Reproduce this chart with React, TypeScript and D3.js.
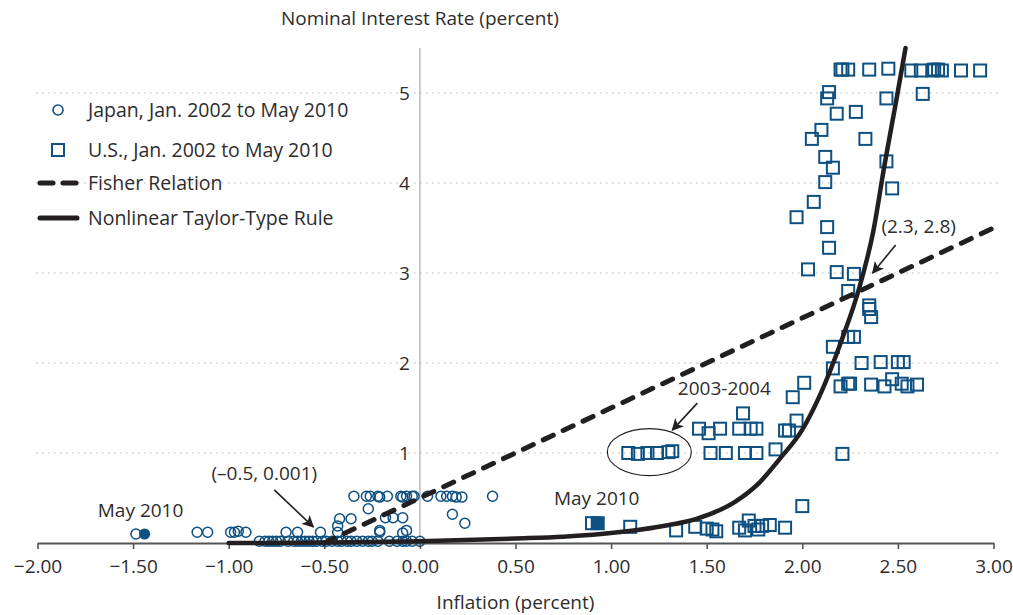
import { useEffect, useRef } from "react";
import * as d3 from "d3";

// Japan, Jan. 2002 to May 2010: [inflation, nominal rate]
const japanPoints = [
  [-1.485, 0.1], [-1.165, 0.12], [-1.11, 0.12], [-0.99, 0.12], [-0.97, 0.12], [-0.95, 0.13], [-0.91, 0.12],
  [-0.7, 0.12], [-0.64, 0.12], [-0.52, 0.12], [-0.43, 0.12], [-0.21, 0.12], [-0.09, 0.11],
  [-0.43, 0.19], [-0.42, 0.27], [-0.36, 0.27], [-0.27, 0.38], [-0.21, 0.14], [-0.07, 0.14],
  [-0.18, 0.28], [-0.14, 0.28], [-0.09, 0.28],
  [-0.345, 0.52], [-0.28, 0.52], [-0.26, 0.52], [-0.22, 0.52], [-0.21, 0.51], [-0.17, 0.52], [-0.1, 0.52],
  [-0.09, 0.51], [-0.07, 0.52], [-0.04, 0.52], [-0.03, 0.52], [0.04, 0.52], [0.11, 0.52], [0.14, 0.52],
  [0.17, 0.52], [0.19, 0.51], [0.22, 0.51], [0.38, 0.52], [0.17, 0.32], [0.235, 0.22],
  [-0.84, 0.02], [-0.81, 0.02], [-0.79, 0.02], [-0.77, 0.02], [-0.75, 0.02], [-0.73, 0.02], [-0.69, 0.02],
  [-0.66, 0.02], [-0.64, 0.02], [-0.62, 0.02], [-0.6, 0.02], [-0.58, 0.02], [-0.56, 0.02], [-0.54, 0.02],
  [-0.51, 0.02], [-0.49, 0.02], [-0.46, 0.02], [-0.43, 0.02], [-0.41, 0.02], [-0.38, 0.02], [-0.36, 0.02],
  [-0.33, 0.02], [-0.3, 0.02], [-0.27, 0.02], [-0.25, 0.02], [-0.22, 0.02], [-0.16, 0.02], [-0.12, 0.02],
  [-0.09, 0.02], [-0.07, 0.02], [-0.04, 0.02], [0.0, 0.02],
];
const japanMay2010 = [-1.44, 0.1];

// U.S., Jan. 2002 to May 2010
const usPoints = [
  [0.9, 0.22], [1.1, 0.18], [1.34, 0.14], [1.44, 0.18], [1.5, 0.16], [1.53, 0.15], [1.55, 0.13],
  [1.67, 0.17], [1.7, 0.14], [1.72, 0.25], [1.75, 0.19], [1.77, 0.15], [1.79, 0.19], [1.83, 0.2],
  [1.91, 0.17], [2.0, 0.41],
  [1.09, 1.0], [1.14, 0.99], [1.19, 1.0], [1.24, 1.0], [1.3, 1.01], [1.32, 1.02],
  [1.46, 1.27], [1.51, 1.22], [1.57, 1.27], [1.67, 1.27], [1.73, 1.27], [1.76, 1.27], [1.69, 1.44],
  [1.91, 1.25], [1.93, 1.25], [1.97, 1.36], [1.95, 1.62], [2.01, 1.78],
  [1.52, 1.0], [1.6, 1.0], [1.7, 1.0], [1.76, 1.0], [1.86, 1.04], [2.21, 0.99],
  [2.16, 1.94], [2.2, 1.74], [2.24, 1.77], [2.25, 1.77], [2.31, 2.0], [2.36, 1.76], [2.41, 2.01],
  [2.43, 1.74], [2.47, 1.82], [2.5, 2.01], [2.53, 2.01], [2.52, 1.77], [2.55, 1.74], [2.6, 1.76],
  [2.16, 2.18], [2.24, 2.29], [2.27, 2.29], [2.35, 2.64], [2.35, 2.6], [2.36, 2.51], [2.24, 2.8],
  [2.03, 3.04], [2.18, 3.01], [2.27, 2.99], [2.14, 3.28], [2.13, 3.51], [1.97, 3.62], [2.06, 3.79],
  [2.12, 4.01], [2.47, 3.94], [2.44, 4.24], [2.16, 4.17], [2.12, 4.29], [2.05, 4.49], [2.33, 4.49],
  [2.1, 4.59], [2.18, 4.77], [2.28, 4.79], [2.13, 4.94], [2.14, 5.01], [2.44, 4.94], [2.63, 4.99],
  [2.2, 5.26], [2.21, 5.26], [2.24, 5.26], [2.35, 5.26], [2.45, 5.27], [2.57, 5.25], [2.62, 5.25],
  [2.68, 5.25], [2.69, 5.26], [2.71, 5.26], [2.73, 5.25], [2.83, 5.25], [2.93, 5.25],
];
const usMay2010 = [0.93, 0.22];

// Fisher relation and nonlinear Taylor-type rule
const fisherLine = [[-0.5, 0.001], [3.0, 3.5]];
const taylorLine = [
  [-1.0, 0.0], [-0.5, 0.005], [0.0, 0.02], [0.5, 0.05], [0.75, 0.07], [1.0, 0.11], [1.25, 0.18],
  [1.45, 0.27], [1.65, 0.46], [1.78, 0.68], [1.88, 0.93], [2.0, 1.26], [2.1, 1.68], [2.2, 2.22],
  [2.3, 2.85], [2.37, 3.45], [2.43, 4.2], [2.49, 4.9], [2.54, 5.5],
];

const xTicks = [-2, -1.5, -1, -0.5, 0, 0.5, 1, 1.5, 2, 2.5, 3];
const yTicks = [1, 2, 3, 4, 5];

const legendItems = [
  "Japan, Jan. 2002 to May 2010",
  "U.S., Jan. 2002 to May 2010",
  "Fisher Relation",
  "Nonlinear Taylor-Type Rule",
];

const BLUE = "#0d5081";
const INK = "#231f20";
const TEXT = "#2e2c2d";
const FONT = "'Open Sans', sans-serif";
const FS = "19px";

export default function App() {
  const ref = useRef(null);

  useEffect(() => {
    const width = 1013;
    const height = 615;
    const svg = d3.select(ref.current);
    svg.selectAll("*").remove();
    svg.attr("width", width).attr("height", height).attr("viewBox", [0, 0, width, height]);

    const x = d3.scaleLinear().domain([-2, 3]).range([37.5, 993.5]);
    const y = d3.scaleLinear().domain([0, 5]).range([543, 93]);

    // Gridlines
    svg
      .append("g")
      .selectAll("line")
      .data(yTicks)
      .join("line")
      .attr("x1", 36)
      .attr("x2", 998)
      .attr("y1", (d) => y(d))
      .attr("y2", (d) => y(d))
      .attr("stroke", "#b3b3b3")
      .attr("stroke-width", 1.2)
      .attr("stroke-dasharray", "1.5 4.5");

    // Vertical axis at zero
    svg
      .append("line")
      .attr("x1", x(0))
      .attr("x2", x(0))
      .attr("y1", 48)
      .attr("y2", y(0))
      .attr("stroke", "#bdbdbd")
      .attr("stroke-width", 1.5);

    svg
      .append("g")
      .selectAll("text")
      .data(yTicks)
      .join("text")
      .attr("x", x(0) - 10)
      .attr("y", (d) => y(d))
      .attr("dy", "0.36em")
      .attr("text-anchor", "end")
      .attr("paint-order", "stroke")
      .attr("stroke", "white")
      .attr("stroke-width", 5)
      .attr("fill", TEXT)
      .style("font", `${FS} ${FONT}`)
      .text((d) => d);

    // Horizontal axis
    svg
      .append("g")
      .attr("transform", `translate(0,${y(0)})`)
      .call(
        d3
          .axisBottom(x)
          .tickValues(xTicks)
          .tickSize(6)
          .tickPadding(11)
          .tickSizeOuter(0)
          .tickFormat((d) => d3.format(".2f")(d).replace("-", "–"))
      )
      .call((g) => g.select(".domain").attr("stroke", "#555").attr("stroke-width", 1.8))
      .call((g) => g.selectAll(".tick line").attr("stroke", "#555").attr("stroke-width", 1.6))
      .call((g) =>
        g.selectAll(".tick text").attr("fill", TEXT).style("font", `${FS} ${FONT}`)
      );

    // Japan circles
    svg
      .append("g")
      .selectAll("circle")
      .data(japanPoints)
      .join("circle")
      .attr("cx", (d) => x(d[0]))
      .attr("cy", (d) => y(d[1]))
      .attr("r", 5)
      .attr("fill", "none")
      .attr("stroke", BLUE)
      .attr("stroke-width", 1.5);
    svg
      .append("circle")
      .attr("cx", x(japanMay2010[0]))
      .attr("cy", y(japanMay2010[1]))
      .attr("r", 5.6)
      .attr("fill", BLUE);

    // U.S. squares
    const s = 12;
    svg
      .append("g")
      .selectAll("rect")
      .data(usPoints)
      .join("rect")
      .attr("x", (d) => x(d[0]) - s / 2)
      .attr("y", (d) => y(d[1]) - s / 2)
      .attr("width", s)
      .attr("height", s)
      .attr("fill", "none")
      .attr("stroke", BLUE)
      .attr("stroke-width", 2);
    svg
      .append("rect")
      .attr("x", x(usMay2010[0]) - s / 2 - 1)
      .attr("y", y(usMay2010[1]) - s / 2 - 1)
      .attr("width", s + 2)
      .attr("height", s + 2)
      .attr("fill", BLUE);

    // Lines
    const line = d3
      .line()
      .x((d) => x(d[0]))
      .y((d) => y(d[1]));

    svg
      .append("path")
      .attr("d", line(fisherLine))
      .attr("fill", "none")
      .attr("stroke", INK)
      .attr("stroke-width", 5)
      .attr("stroke-linecap", "round")
      .attr("stroke-dasharray", "11 11");

    svg
      .append("path")
      .attr("d", line.curve(d3.curveMonotoneX)(taylorLine))
      .attr("fill", "none")
      .attr("stroke", INK)
      .attr("stroke-width", 4.5)
      .attr("stroke-linecap", "round");

    // Arrow marker
    svg
      .append("defs")
      .append("marker")
      .attr("id", "arrow")
      .attr("viewBox", "0 0 10 10")
      .attr("refX", 9)
      .attr("refY", 5)
      .attr("markerWidth", 12)
      .attr("markerHeight", 12)
      .attr("markerUnits", "userSpaceOnUse")
      .attr("orient", "auto")
      .append("path")
      .attr("d", "M0,0 L10,5 L0,10 L2.5,5 Z")
      .attr("fill", INK);

    const arrow = (x1, y1, x2, y2) =>
      svg
        .append("line")
        .attr("x1", x1)
        .attr("y1", y1)
        .attr("x2", x2)
        .attr("y2", y2)
        .attr("stroke", INK)
        .attr("stroke-width", 1.6)
        .attr("marker-end", "url(#arrow)");

    const label = (tx, ty, str, anchor = "middle") =>
      svg
        .append("text")
        .attr("x", tx)
        .attr("y", ty)
        .attr("text-anchor", anchor)
        .attr("fill", TEXT)
        .style("font", `${FS} ${FONT}`)
        .text(str);

    // (−0.5, 0.001)
    const ax = x(-0.5);
    const ay = y(0.001);
    label(ax - 60, ay - 63, "(–0.5, 0.001)");
    arrow(ax - 50, ay - 53, ax - 11, ay - 16);

    // (2.3, 2.8)
    const bx = x(2.3);
    const by = y(2.8);
    label(bx + 59, by - 58, "(2.3, 2.8)");
    arrow(bx + 36, by - 46, bx + 13, by - 18);

    // 2003-2004 ellipse
    const ex = x(1.2);
    const ey = y(1.01);
    svg
      .append("ellipse")
      .attr("cx", ex)
      .attr("cy", ey)
      .attr("rx", 42)
      .attr("ry", 23.5)
      .attr("fill", "none")
      .attr("stroke", INK)
      .attr("stroke-width", 1.1);
    label(ex + 75, ey - 57, "2003-2004");
    arrow(ex + 48, ey - 49, ex + 23, ey - 22);

    // May 2010 labels
    label(x(japanMay2010[0]) - 4, y(japanMay2010[1]) - 17, "May 2010");
    label(x(usMay2010[0]) - 1, y(usMay2010[1]) - 18, "May 2010");

    // Titles
    label(x(0), 25, "Nominal Interest Rate (percent)");
    label(x(0.5), 609, "Inflation (percent)");

    // Legend
    const lg = svg.append("g");
    const rows = [110, 150, 183, 218];
    legendItems.forEach((t, i) => {
      lg.append("text")
        .attr("x", 88)
        .attr("y", rows[i])
        .attr("dy", "0.36em")
        .attr("fill", TEXT)
        .style("font", `19.5px ${FONT}`)
        .text(t);
    });
    lg.append("circle")
      .attr("cx", 58)
      .attr("cy", rows[0])
      .attr("r", 5)
      .attr("fill", "none")
      .attr("stroke", BLUE)
      .attr("stroke-width", 1.6);
    lg.append("rect")
      .attr("x", 52)
      .attr("y", rows[1] - 6)
      .attr("width", 12)
      .attr("height", 12)
      .attr("fill", "none")
      .attr("stroke", BLUE)
      .attr("stroke-width", 2);
    lg.append("line")
      .attr("x1", 40)
      .attr("x2", 76)
      .attr("y1", rows[2])
      .attr("y2", rows[2])
      .attr("stroke", INK)
      .attr("stroke-width", 5)
      .attr("stroke-linecap", "round")
      .attr("stroke-dasharray", "13 10");
    lg.append("line")
      .attr("x1", 40)
      .attr("x2", 77)
      .attr("y1", rows[3])
      .attr("y2", rows[3])
      .attr("stroke", INK)
      .attr("stroke-width", 5)
      .attr("stroke-linecap", "round");
  }, []);

  return (
    <svg
      ref={ref}
      style={{ position: "absolute", left: 0, top: 0, background: "white" }}
    />
  );
}
